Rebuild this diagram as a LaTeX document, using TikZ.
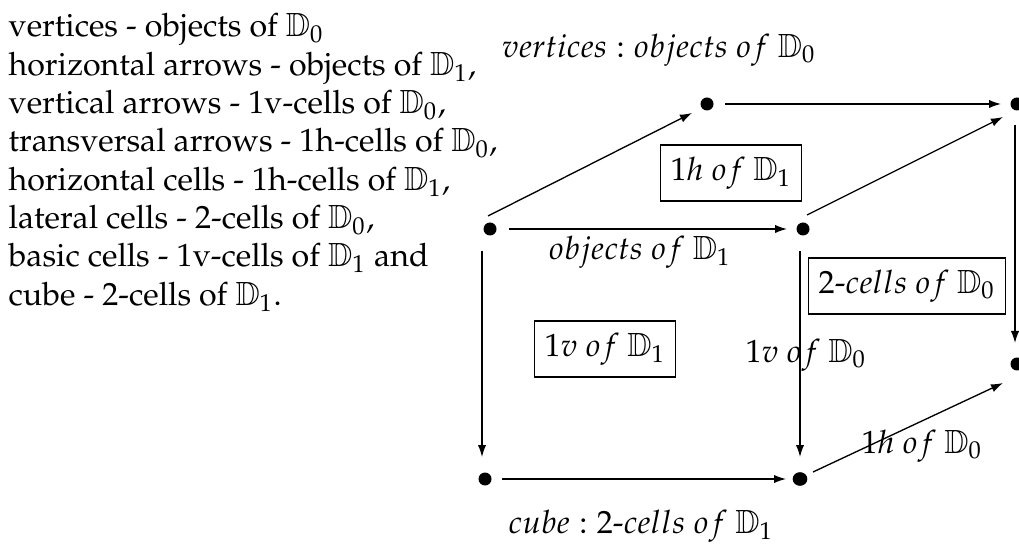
\documentclass[tikz,border=0pt]{standalone}
\usepackage[T1]{fontenc}
\usepackage{mathpazo}
\usepackage{tikz}
\usetikzlibrary{arrows.meta,shapes.geometric}
\DeclareMathAlphabet{\mybb}{U}{msb}{m}{n}
\newcommand{\DD}{\mybb{D}}
\newcommand{\hy}{\mbox{-}}
\begin{document}
\begin{tikzpicture}[x=0.3pt,y=-0.3pt,
  every node/.style={font=\fontsize{9.65}{11.5}\selectfont},
  dot/.style={circle,fill=black,inner sep=0pt,minimum size=3.9pt},
  bigdot/.style={ellipse,fill=black,inner sep=0pt,minimum width=4.4pt,minimum height=4.1pt},
  arr/.style={-{Latex[length=3.6pt,width=2.5pt]},line width=0.4pt},
  lbl/.style={inner sep=0pt},
  cellbox/.style={draw,line width=0.4pt,inner xsep=3pt,inner ysep=3.6pt},
  txt/.style={anchor=base west,inner sep=0pt}]
\useasboundingbox (0,0) rectangle (1019,544);
% legend
\node[txt] (l1) at (8,37) {vertices - objects of $\DD_0$};
\node[txt] (l2) at (8,75.3) {horizontal arrows - objects of $\DD_1$,};
\node[txt] (l3) at (8,113.6) {vertical arrows - 1v-cells of $\DD_0$,};
\node[txt] (l4) at (8,151.9) {transversal arrows - 1h-cells of $\DD_0$,};
\node[txt] (l5) at (8,190.2) {horizontal cells - 1h-cells of $\DD_1$,};
\node[txt] (l6) at (8,228.5) {lateral cells - 2-cells of $\DD_0$,};
\node[txt] (l7) at (8,266.8) {basic cells - 1v-cells of $\DD_1$ and};
\node[txt] (l8) at (8,305.1) {cube - 2-cells of $\DD_1$.};
% vertices
\node[dot] (A) at (490,229) {};
\node[dot] (B) at (803,229) {};
\node[dot] (C) at (707,104) {};
\node[dot] (D) at (1017,104) {};
\node[dot] (E) at (485,479) {};
\node[bigdot] (F) at (800,479) {};
\node[dot] (G) at (1017,364) {};
% arrows
\draw[arr] ([shift={(19,0)}]A.center) -- ([shift={(-16,0)}]B.center);
\draw[arr] ([shift={(-2,-13)}]A.center) -- ([shift={(-15,9)}]C.center);
\draw[arr] ([shift={(18,0)}]C.center) -- ([shift={(-16,0)}]D.center);
\draw[arr] ([shift={(4,-14)}]B.center) -- ([shift={(-14,13)}]D.center);
\draw[arr] ([shift={(-8,22)}]A.center) -- ([shift={(-3,-22)}]E.center);
\draw[arr] ([shift={(-3,22)}]B.center) -- ([shift={(0,-22)}]F.center);
\draw[arr] ([shift={(-2,21)}]D.center) -- ([shift={(-2,-21)}]G.center);
\draw[arr] ([shift={(17,0)}]E.center) -- ([shift={(-14,0)}]F.center);
\draw[arr] ([shift={(13,-7)}]F.center) -- ([shift={(-14,19)}]G.center);
% labels
\node[lbl] (top) at (659,50) {$vertices : objects\ of\ \DD_0$};
\node[cellbox] (h1) at (731,173) {$1h\ of\ \DD_1$};
\node[lbl] (o1) at (640,252) {$objects\ of\ \DD_1$};
\node[cellbox] (c2) at (907,286) {$2\hy cells\ of\ \DD_0$};
\node[cellbox] (v1) at (605,349) {$1v\ of\ \DD_1$};
\node[lbl] (v0) at (806,355) {$1v\ of\ \DD_0$};
\node[lbl] (h0) at (922,446) {$1h\ of\ \DD_0$};
\node[lbl] (cube) at (641,526) {$cube : 2\hy cells\ of\ \DD_1$};
\end{tikzpicture}
\end{document}
